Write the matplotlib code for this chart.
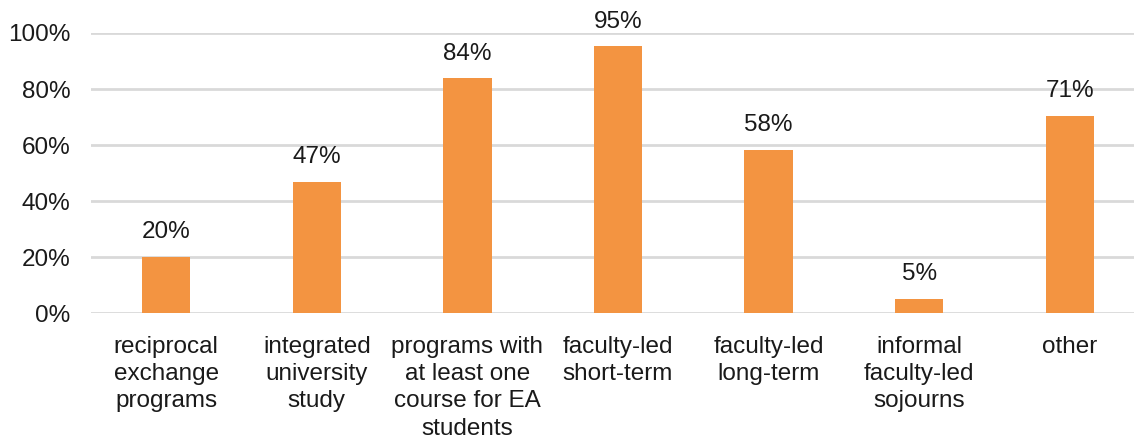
import matplotlib
matplotlib.use("Agg")
import matplotlib.pyplot as plt
from matplotlib.ticker import PercentFormatter

categories = [
    "reciprocal\nexchange\nprograms",
    "integrated\nuniversity\nstudy",
    "programs with\nat least one\ncourse for EA\nstudents",
    "faculty-led\nshort-term",
    "faculty-led\nlong-term",
    "informal\nfaculty-led\nsojourns",
    "other",
]
values = [20.0, 46.8, 83.8, 95.2, 58.2, 5.0, 70.5]
labels = ["20%", "47%", "84%", "95%", "58%", "5%", "71%"]
yticks = [0, 20, 40, 60, 80, 100]

plt.rcParams['font.family'] = ['Liberation Sans', 'DejaVu Sans']

W, H = 1134, 440
fig = plt.figure(figsize=(W / 100, H / 100), dpi=100)
left, right = 91, 1145
top, bottom = 33, 313.3
ax = fig.add_axes([left / W, 1 - bottom / H, (right - left) / W, (bottom - top) / H])

FS = 17.5
x = list(range(len(categories)))
bars = ax.bar(x, values, width=0.32, color="#F39441", zorder=3)
for xi, v, lab in zip(x, values, labels):
    ax.annotate(lab, (xi, v), xytext=(0, 10), textcoords="offset points",
                ha="center", va="bottom", fontsize=FS, color="#1a1a1a")

ax.set_xlim(-0.5, len(categories) - 0.5)
ax.set_ylim(0, 100)
ax.set_yticks(yticks)
ax.yaxis.set_major_formatter(PercentFormatter(decimals=0))
ax.set_xticks(x)
ax.set_xticklabels(categories, fontsize=FS, color="#1a1a1a", linespacing=1.32)
ax.tick_params(axis="y", length=0, pad=15, labelsize=FS, labelcolor="#1a1a1a")
ax.tick_params(axis="x", length=0, pad=16)
ax.grid(axis="y", color="#D9D9D9", linewidth=2, zorder=0)
for s in ax.spines.values():
    s.set_visible(False)

fig.savefig("out.png", dpi=100)
